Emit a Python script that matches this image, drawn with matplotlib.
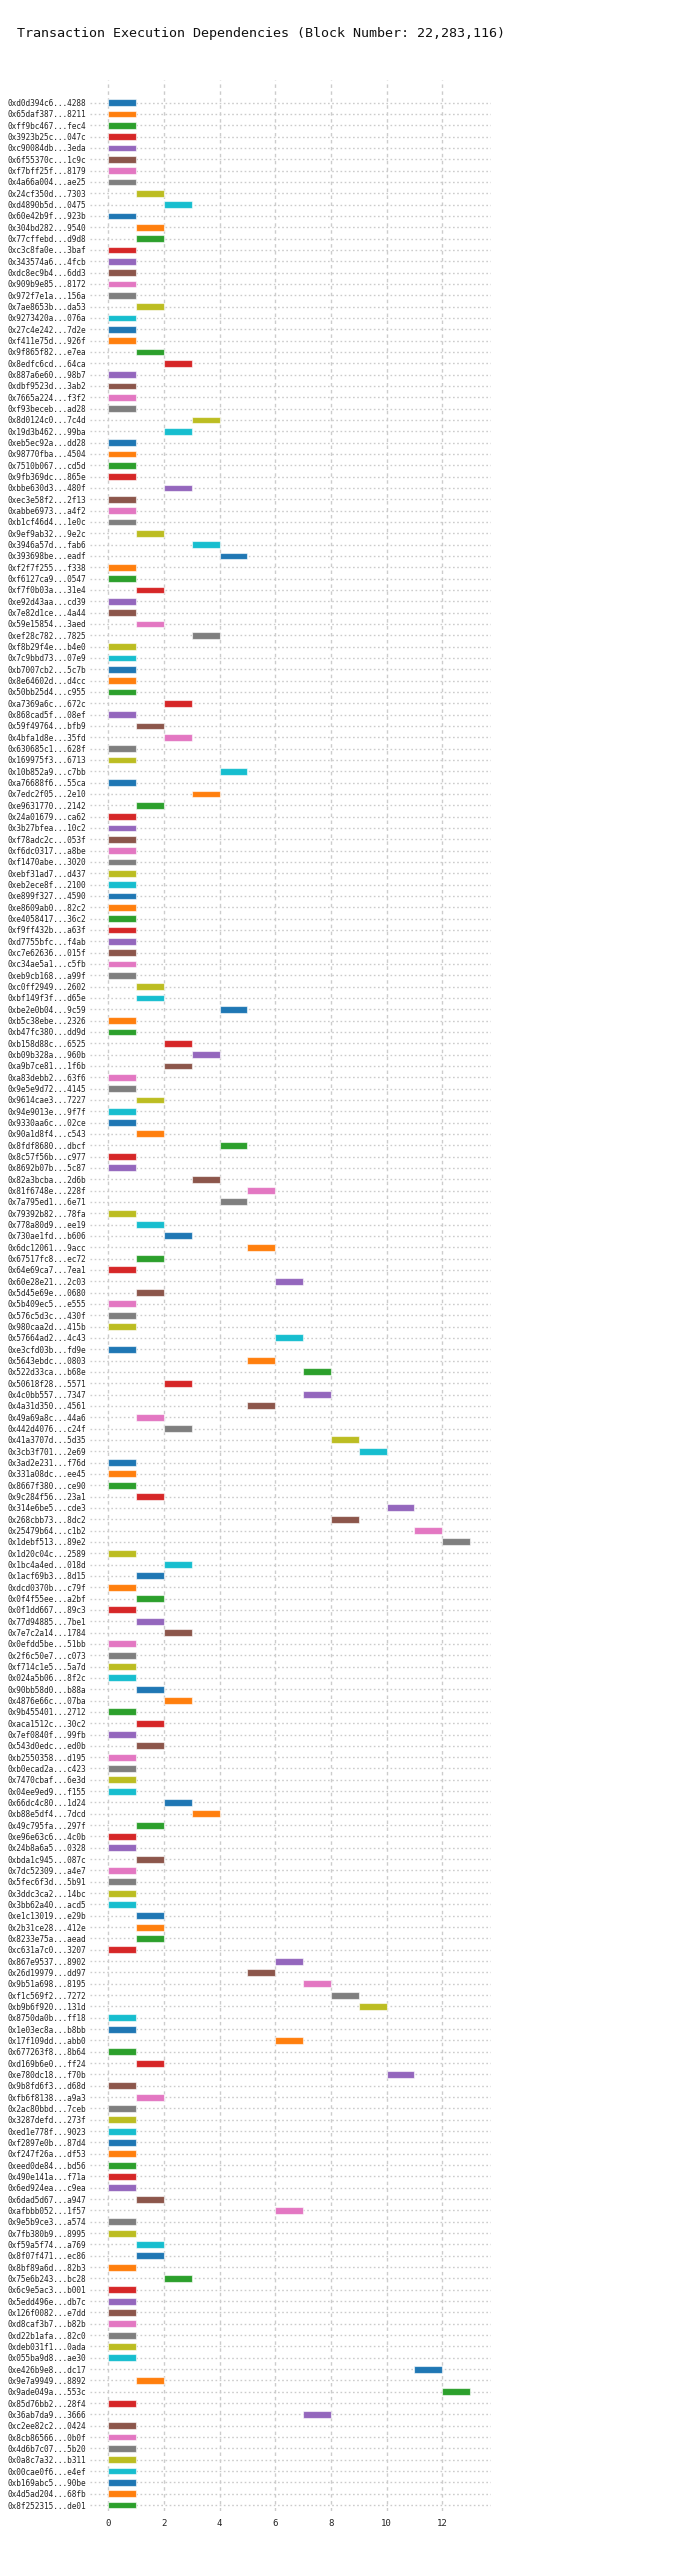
import matplotlib
matplotlib.use('Agg')
import matplotlib.pyplot as plt

# transaction hashes (shortened), top to bottom
tx_labels = [
    '0xd0d394c6...4288', '0x65daf387...8211', '0xff9bc467...fec4', '0x3923b25c...047c',
    '0xc90084db...3eda', '0x6f55370c...1c9c', '0xf7bff25f...8179', '0x4a66a004...ae25',
    '0x24cf350d...7303', '0xd4890b5d...0475', '0x60e42b9f...923b', '0x304bd282...9540',
    '0x77cffebd...d9d8', '0xc3c8fa0e...3baf', '0x343574a6...4fcb', '0xdc8ec9b4...6dd3',
    '0x909b9e85...8172', '0x972f7e1a...156a', '0x7ae8653b...da53', '0x9273420a...076a',
    '0x27c4e242...7d2e', '0xf411e75d...926f', '0x9f865f82...e7ea', '0x8edfc6cd...64ca',
    '0x887a6e60...98b7', '0xdbf9523d...3ab2', '0x7665a224...f3f2', '0xf93beceb...ad28',
    '0x8d0124c0...7c4d', '0x19d3b462...99ba', '0xeb5ec92a...dd28', '0x98770fba...4504',
    '0x7510b067...cd5d', '0x9fb369dc...865e', '0xbbe630d3...480f', '0xec3e58f2...2f13',
    '0xabbe6973...a4f2', '0xb1cf46d4...1e0c', '0x9ef9ab32...9e2c', '0x3946a57d...fab6',
    '0x393698be...eadf', '0xf2f7f255...f338', '0xf6127ca9...0547', '0xf7f0b03a...31e4',
    '0xe92d43aa...cd39', '0x7e82d1ce...4a44', '0x59e15854...3aed', '0xef28c782...7825',
    '0xf8b29f4e...b4e0', '0x7c9bbd73...07e9', '0xb7007cb2...5c7b', '0x8e64602d...d4cc',
    '0x50bb25d4...c955', '0xa7369a6c...672c', '0x868cad5f...08ef', '0x59f49764...bfb9',
    '0x4bfa1d8e...35fd', '0x630685c1...628f', '0x169975f3...6713', '0x10b852a9...c7bb',
    '0xa76688f6...55ca', '0x7edc2f05...2e10', '0xe9631770...2142', '0x24a01679...ca62',
    '0x3b27bfea...10c2', '0xf78adc2c...053f', '0xf6dc0317...a8be', '0xf1470abe...3020',
    '0xebf31ad7...d437', '0xeb2ece8f...2100', '0xe899f327...4590', '0xe8609ab0...82c2',
    '0xe4058417...36c2', '0xf9ff432b...a63f', '0xd7755bfc...f4ab', '0xc7e62636...015f',
    '0xc34ae5a1...c5fb', '0xeb9cb168...a99f', '0xc0ff2949...2602', '0xbf149f3f...d65e',
    '0xbe2e0b04...9c59', '0xb5c38ebe...2326', '0xb47fc380...dd9d', '0xb158d88c...6525',
    '0xb09b328a...960b', '0xa9b7ce81...1f6b', '0xa83debb2...63f6', '0x9e5e9d72...4145',
    '0x9614cae3...7227', '0x94e9013e...9f7f', '0x9330aa6c...02ce', '0x90a1d8f4...c543',
    '0x8fdf8680...dbcf', '0x8c57f56b...c977', '0x8692b07b...5c87', '0x82a3bcba...2d6b',
    '0x81f6748e...228f', '0x7a795ed1...6e71', '0x79392b82...78fa', '0x778a80d9...ee19',
    '0x730ae1fd...b606', '0x6dc12061...9acc', '0x67517fc8...ec72', '0x64e69ca7...7ea1',
    '0x60e28e21...2c03', '0x5d45e69e...0680', '0x5b409ec5...e555', '0x576c5d3c...430f',
    '0x980caa2d...415b', '0x57664ad2...4c43', '0xe3cfd03b...fd9e', '0x5643ebdc...0803',
    '0x522d33ca...b68e', '0x50618f28...5571', '0x4c0bb557...7347', '0x4a31d350...4561',
    '0x49a69a8c...44a6', '0x442d4076...c24f', '0x41a3707d...5d35', '0x3cb3f701...2e69',
    '0x3ad2e231...f76d', '0x331a08dc...ee45', '0x8667f380...ce90', '0x9c284f56...23a1',
    '0x314e6be5...cde3', '0x268cbb73...8dc2', '0x25479b64...c1b2', '0x1debf513...89e2',
    '0x1d20c04c...2589', '0x1bc4a4ed...018d', '0x1acf69b3...8d15', '0xdcd0370b...c79f',
    '0x0f4f55ee...a2bf', '0x0f1dd667...89c3', '0x77d94885...7be1', '0x7e7c2a14...1784',
    '0x0efdd5be...51bb', '0x2f6c50e7...c073', '0xf714c1e5...5a7d', '0x024a5b06...8f2c',
    '0x90bb58d0...b88a', '0x4876e66c...07ba', '0x9b455401...2712', '0xaca1512c...30c2',
    '0x7ef0840f...99fb', '0x543d0edc...ed0b', '0xb2550358...d195', '0xb0ecad2a...c423',
    '0x7470cbaf...6e3d', '0x04ee9ed9...f155', '0x66dc4c80...1d24', '0xb88e5df4...7dcd',
    '0x49c795fa...297f', '0xe96e63c6...4c0b', '0x24b8a6a5...0328', '0xbda1c945...087c',
    '0x7dc52309...a4e7', '0x5fec6f3d...5b91', '0x3ddc3ca2...14bc', '0x3bb62a40...acd5',
    '0xe1c13019...e29b', '0x2b31ce28...412e', '0x8233e75a...aead', '0xc631a7c0...3207',
    '0x867e9537...8902', '0x26d19979...dd97', '0x9b51a698...8195', '0xf1c569f2...7272',
    '0xb9b6f920...131d', '0x8750da0b...ff18', '0x1e03ec8a...b8bb', '0x17f109dd...abb0',
    '0x677263f8...8b64', '0xd169b6e0...ff24', '0xe780dc18...f70b', '0x9b8fd6f3...d68d',
    '0xfb6f8138...a9a3', '0x2ac80bbd...7ceb', '0x3287defd...273f', '0xed1e778f...9023',
    '0xf2897e0b...87d4', '0xf247f26a...df53', '0xeed0de84...bd56', '0x490e141a...f71a',
    '0x6ed924ea...c9ea', '0x6dad5d67...a947', '0xafbbb052...1f57', '0x9e5b9ce3...a574',
    '0x7fb380b9...8995', '0xf59a5f74...a769', '0x8f07f471...ec86', '0x8bf89a6d...82b3',
    '0x75e6b243...bc28', '0x6c9e5ac3...b001', '0x5edd496e...db7c', '0x126f0082...e7dd',
    '0xd8caf3b7...b82b', '0xd22b1afa...82c0', '0xdeb031f1...0ada', '0x055ba9d8...ae30',
    '0xe426b9e8...dc17', '0x9e7a9949...8892', '0x9ade049a...553c', '0x85d76bb2...28f4',
    '0x36ab7da9...3666', '0xc2ee82c2...0424', '0x8cb86566...0b0f', '0x4d6b7c07...5b20',
    '0x0a8c7a32...b311', '0x00cae0f6...e4ef', '0xb169abc5...90be', '0x4d5ad204...68fb',
    '0x8f252315...de01',
]

# execution start step of each transaction (same order)
start_steps = [
    0, 0, 0, 0, 0, 0, 0, 0, 1, 2, 0, 1, 1, 0, 0, 0, 0, 0, 1, 0,
    0, 0, 1, 2, 0, 0, 0, 0, 3, 2, 0, 0, 0, 0, 2, 0, 0, 0, 1, 3,
    4, 0, 0, 1, 0, 0, 1, 3, 0, 0, 0, 0, 0, 2, 0, 1, 2, 0, 0, 4,
    0, 3, 1, 0, 0, 0, 0, 0, 0, 0, 0, 0, 0, 0, 0, 0, 0, 0, 1, 1,
    4, 0, 0, 2, 3, 2, 0, 0, 1, 0, 0, 1, 4, 0, 0, 3, 5, 4, 0, 1,
    2, 5, 1, 0, 6, 1, 0, 0, 0, 6, 0, 5, 7, 2, 7, 5, 1, 2, 8, 9,
    0, 0, 0, 1, 10, 8, 11, 12, 0, 2, 1, 0, 1, 0, 1, 2, 0, 0, 0, 0,
    1, 2, 0, 1, 0, 1, 0, 0, 0, 0, 2, 3, 1, 0, 0, 1, 0, 0, 0, 0,
    1, 1, 1, 0, 6, 5, 7, 8, 9, 0, 0, 6, 0, 1, 10, 0, 1, 0, 0, 0,
    0, 0, 0, 0, 0, 1, 6, 0, 0, 1, 1, 0, 2, 0, 0, 0, 0, 0, 0, 0,
    11, 1, 12, 0, 7, 0, 0, 0, 0, 0, 0, 0, 0,
]

title = 'Transaction Execution Dependencies (Block Number: 22,283,116)'

mono = 'DejaVu Sans Mono'
fig = plt.figure(figsize=(7, 25.56), dpi=100)
ax = fig.add_axes([0.1286, 0.0177, 0.5729, 0.951])

cmap = plt.get_cmap('tab10')
rows = range(len(tx_labels))
colors = [cmap(i % 10) for i in rows]
ax.barh(list(rows), [1] * len(tx_labels), left=start_steps, height=0.6,
        color=colors, edgecolor=(1, 1, 1, 0.6), linewidth=0.8, zorder=3)

ax.set_yticks(list(rows))
ax.set_yticklabels(tx_labels, fontfamily=mono, fontsize=5.6, color='#222222')
ax.set_ylim(len(tx_labels) - 0.5, -2)
ax.set_xlim(-0.65, 13.75)
ax.set_xticks(range(0, 13, 2))
ax.tick_params(axis='x', labelsize=6.5, length=0, pad=6)
ax.tick_params(axis='y', length=0, pad=3)
for lbl in ax.get_xticklabels():
    lbl.set_fontfamily(mono)
    lbl.set_color('#222222')

ax.grid(axis='x', linestyle=(0, (2.5, 2.5)), color='#cccccc', linewidth=1.0, zorder=0)
ax.grid(axis='y', linestyle=(0, (1.2, 1.8)), color='#cccccc', linewidth=1.0, zorder=0)
ax.set_axisbelow(True)
for s in ax.spines.values():
    s.set_visible(False)

fig.text(0.373, 1 - 33 / 2556, title, ha='center', va='center',
         fontfamily=mono, fontsize=9.6, color='#111111')

fig.savefig('out.png', dpi=100)
